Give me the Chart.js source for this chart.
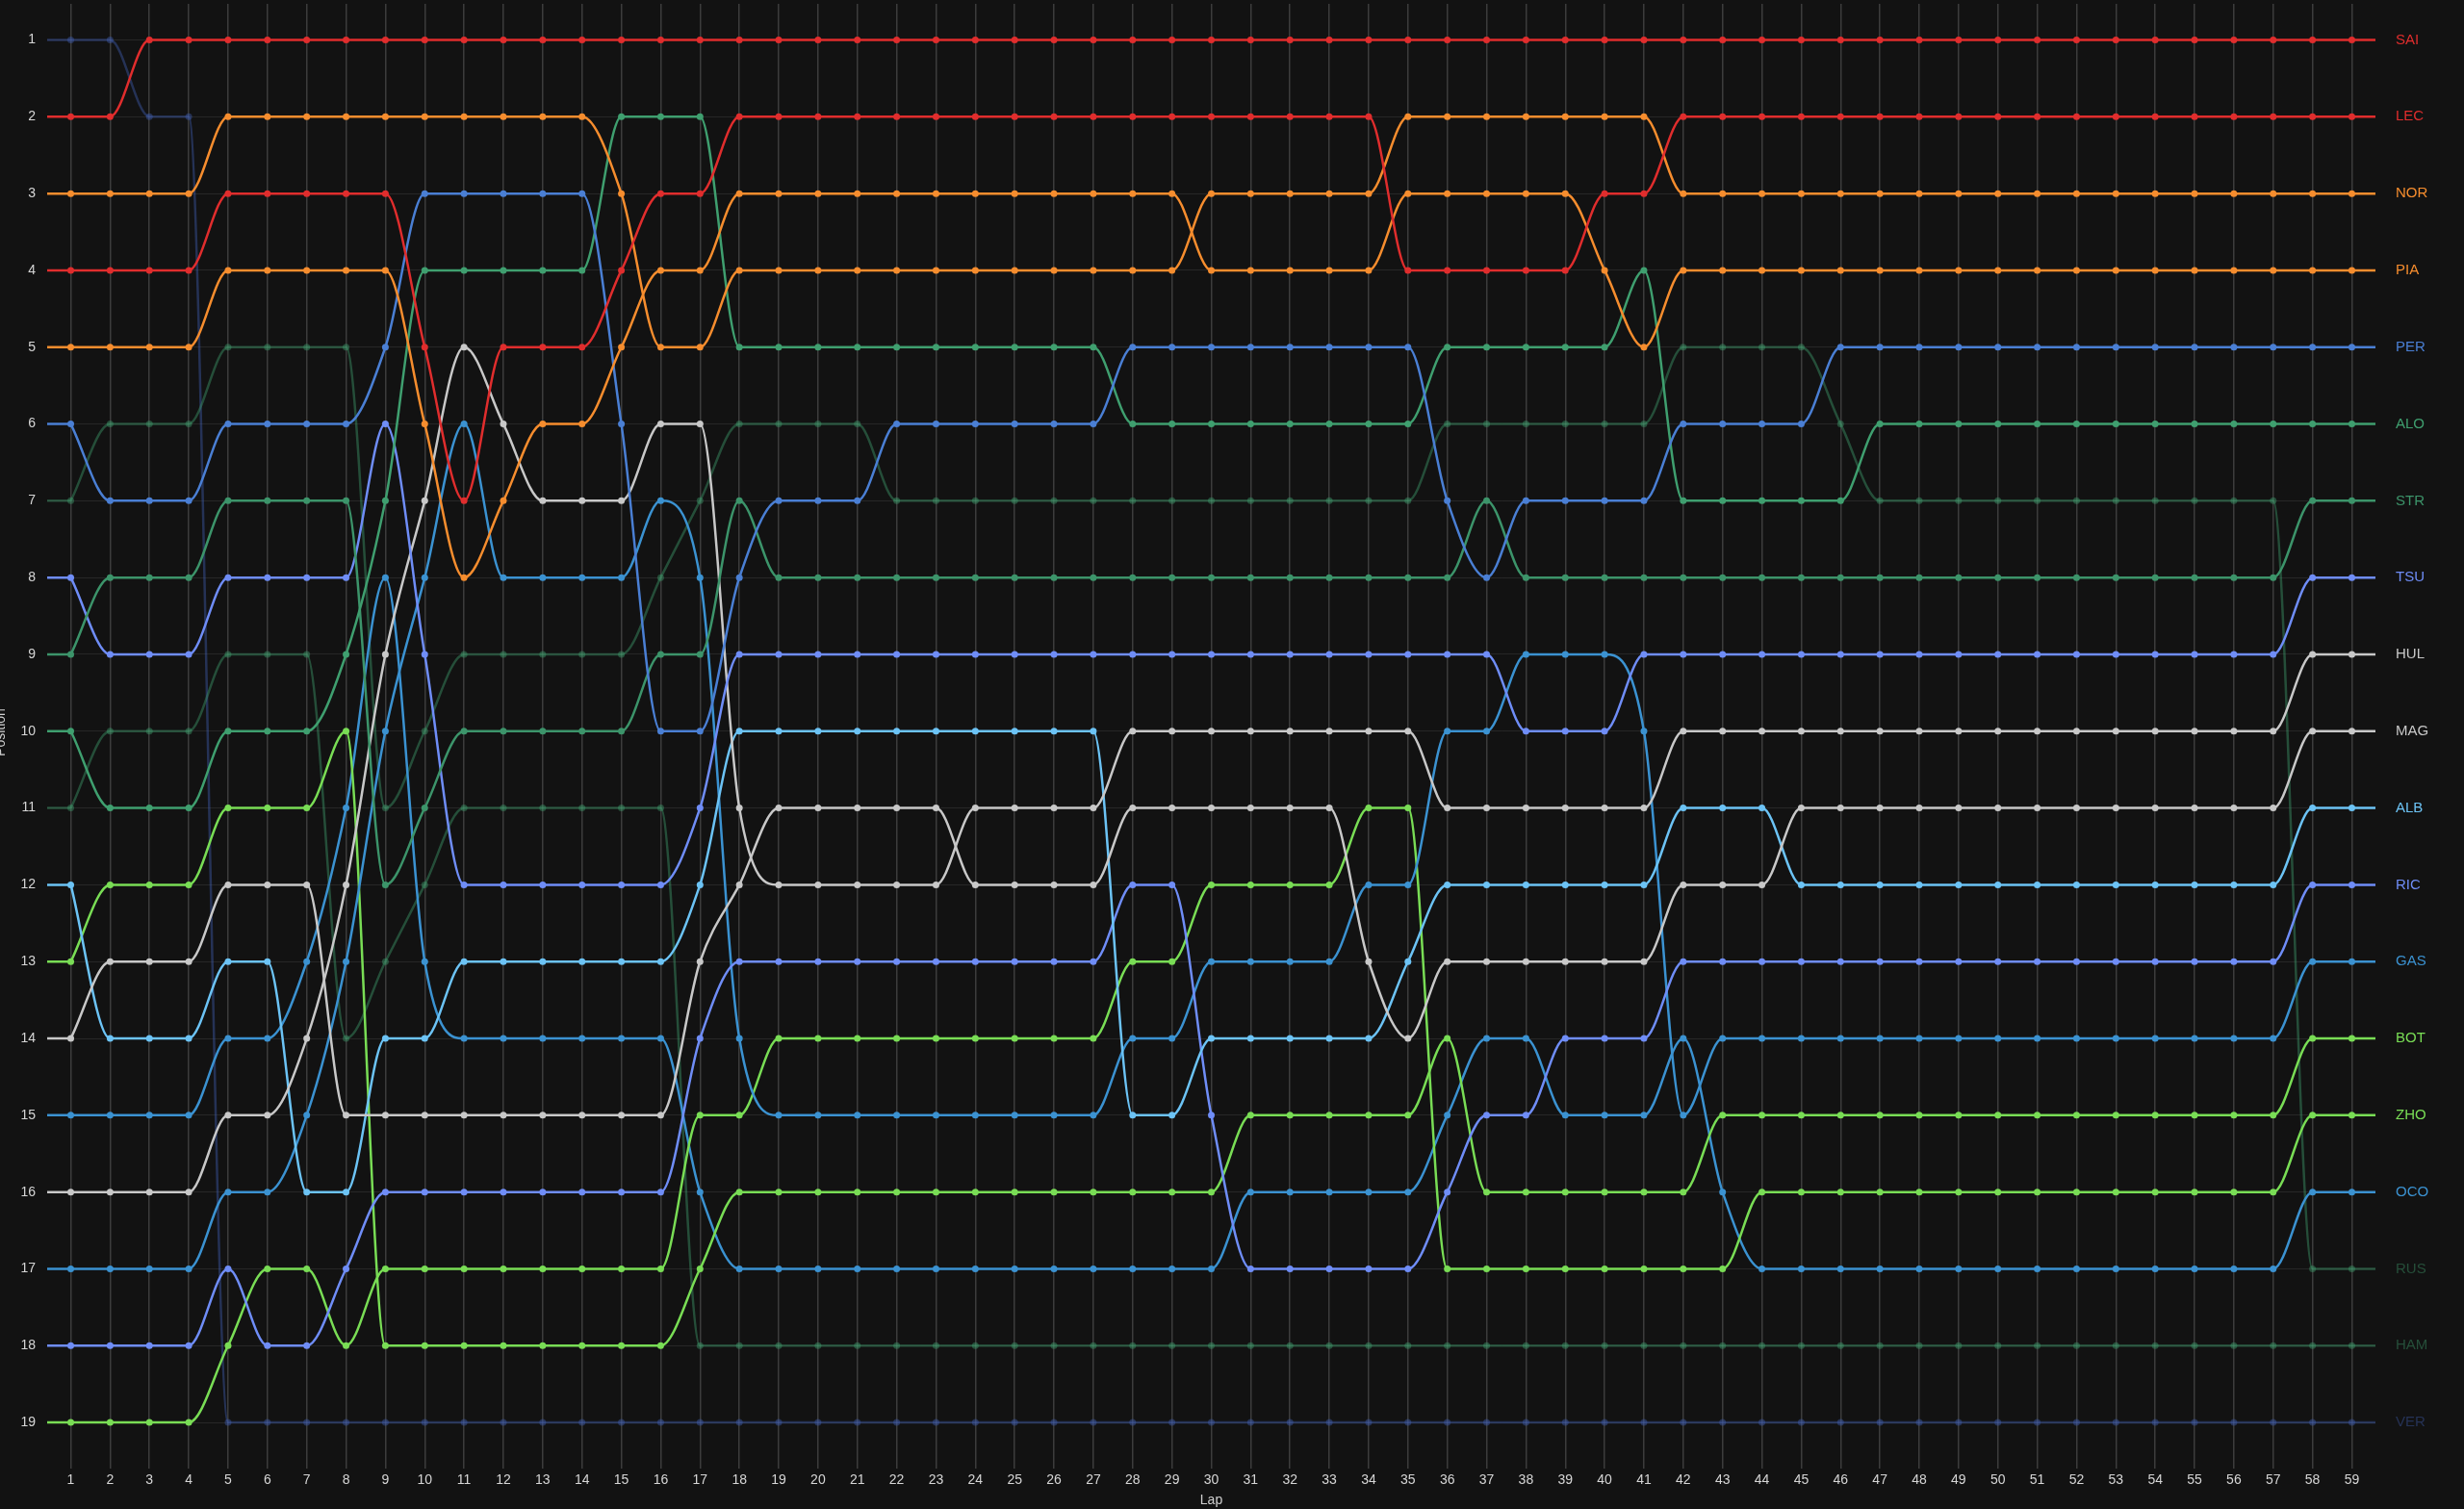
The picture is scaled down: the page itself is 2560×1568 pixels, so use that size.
<!DOCTYPE html>
<html>
<head>
<meta charset="utf-8">
<script src="https://cdn.jsdelivr.net/npm/chart.js@4.4.1/dist/chart.umd.min.js"></script>
<style>
html,body{margin:0;padding:0;background:#121212;}
#wrap{width:2560px;height:1568px;position:relative;}
</style>
</head>
<body>
<div id="wrap"><canvas id="lapChart"></canvas></div>
<script>

const laps = [1,2,3,4,5,6,7,8,9,10,11,12,13,14,15,16,17,18,19,20,
21,22,23,24,25,26,27,28,29,30,31,32,33,34,35,36,37,38,39,40,
41,42,43,44,45,46,47,48,49,50,51,52,53,54,55,56,57,58,59];

const positions = [1,2,3,4,5,6,7,8,9,10,11,12,13,14,15,16,17,18,19];

const drivers = ["SAI","LEC","NOR","PIA","PER","ALO","STR","TSU","HUL","MAG","ALB","RIC","GAS","BOT","ZHO","OCO","RUS","HAM","VER"];

const colors = ["#e02d2d","#e02d2d","#f68d2e","#f68d2e","#4a7fd4","#3f9f6f","#3c946a","#6f8df7","#c8c8c8","#c8c8c8",
"#6cc3f5","#6f8df7","#3b92d1","#79dd55","#79dd55","#3b92d1","rgba(63,154,107,0.45)","rgba(63,154,107,0.45)","rgba(62,92,170,0.45)"];

// position per lap, laps 1..59
const SAI = [2,2,1,1,1,1,1,1,1,1, 1,1,1,1,1,1,1,1,1,1, 1,1,1,1,1,1,1,1,1,1, 1,1,1,1,1,1,1,1,1,1, 1,1,1,1,1,1,1,1,1,1, 1,1,1,1,1,1,1,1,1];
const LEC = [4,4,4,4,3,3,3,3,3,5, 7,5,5,5,4,3,3,2,2,2, 2,2,2,2,2,2,2,2,2,2, 2,2,2,2,4,4,4,4,4,3, 3,2,2,2,2,2,2,2,2,2, 2,2,2,2,2,2,2,2,2];
const NOR = [3,3,3,3,2,2,2,2,2,2, 2,2,2,2,3,5,5,4,4,4, 4,4,4,4,4,4,4,4,4,3, 3,3,3,3,2,2,2,2,2,2, 2,3,3,3,3,3,3,3,3,3, 3,3,3,3,3,3,3,3,3];
const PIA = [5,5,5,5,4,4,4,4,4,6, 8,7,6,6,5,4,4,3,3,3, 3,3,3,3,3,3,3,3,3,4, 4,4,4,4,3,3,3,3,3,4, 5,4,4,4,4,4,4,4,4,4, 4,4,4,4,4,4,4,4,4];
const PER = [6,7,7,7,6,6,6,6,5,3, 3,3,3,3,6,10,10,8,7,7, 7,6,6,6,6,6,6,5,5,5, 5,5,5,5,5,7,8,7,7,7, 7,6,6,6,6,5,5,5,5,5, 5,5,5,5,5,5,5,5,5];
const ALO = [10,11,11,11,10,10,10,9,7,4, 4,4,4,4,2,2,2,5,5,5, 5,5,5,5,5,5,5,6,6,6, 6,6,6,6,6,5,5,5,5,5, 4,7,7,7,7,7,6,6,6,6, 6,6,6,6,6,6,6,6,6];
const STR = [9,8,8,8,7,7,7,7,12,11, 10,10,10,10,10,9,9,7,8,8, 8,8,8,8,8,8,8,8,8,8, 8,8,8,8,8,8,7,8,8,8, 8,8,8,8,8,8,8,8,8,8, 8,8,8,8,8,8,8,7,7];
const TSU = [8,9,9,9,8,8,8,8,6,9, 12,12,12,12,12,12,11,9,9,9, 9,9,9,9,9,9,9,9,9,9, 9,9,9,9,9,9,9,10,10,10, 9,9,9,9,9,9,9,9,9,9, 9,9,9,9,9,9,9,8,8];
const HUL = [16,16,16,16,15,15,14,12,9,7, 5,6,7,7,7,6,6,11,12,12, 12,12,12,11,11,11,11,10,10,10, 10,10,10,10,10,11,11,11,11,11, 11,10,10,10,10,10,10,10,10,10, 10,10,10,10,10,10,10,9,9];
const MAG = [14,13,13,13,12,12,12,15,15,15, 15,15,15,15,15,15,13,12,11,11, 11,11,11,12,12,12,12,11,11,11, 11,11,11,13,14,13,13,13,13,13, 13,12,12,12,11,11,11,11,11,11, 11,11,11,11,11,11,11,10,10];
const ALB = [12,14,14,14,13,13,16,16,14,14, 13,13,13,13,13,13,12,10,10,10, 10,10,10,10,10,10,10,15,15,14, 14,14,14,14,13,12,12,12,12,12, 12,11,11,11,12,12,12,12,12,12, 12,12,12,12,12,12,12,11,11];
const RIC = [18,18,18,18,17,18,18,17,16,16, 16,16,16,16,16,16,14,13,13,13, 13,13,13,13,13,13,13,12,12,15, 17,17,17,17,17,16,15,15,14,14, 14,13,13,13,13,13,13,13,13,13, 13,13,13,13,13,13,13,12,12];
const GAS = [17,17,17,17,16,16,15,13,10,8, 6,8,8,8,8,7,8,14,15,15, 15,15,15,15,15,15,15,14,14,13, 13,13,13,12,12,10,10,9,9,9, 10,15,14,14,14,14,14,14,14,14, 14,14,14,14,14,14,14,13,13];
const BOT = [13,12,12,12,11,11,11,10,18,18, 18,18,18,18,18,18,17,16,16,16, 16,16,16,16,16,16,16,16,16,16, 15,15,15,15,15,14,16,16,16,16, 16,16,15,15,15,15,15,15,15,15, 15,15,15,15,15,15,15,14,14];
const ZHO = [19,19,19,19,18,17,17,18,17,17, 17,17,17,17,17,17,15,15,14,14, 14,14,14,14,14,14,14,13,13,12, 12,12,12,11,11,17,17,17,17,17, 17,17,17,16,16,16,16,16,16,16, 16,16,16,16,16,16,16,15,15];
const OCO = [15,15,15,15,14,14,13,11,8,13, 14,14,14,14,14,14,16,17,17,17, 17,17,17,17,17,17,17,17,17,17, 16,16,16,16,16,15,14,14,15,15, 15,14,16,17,17,17,17,17,17,17, 17,17,17,17,17,17,17,16,16];
const RUS = [7,6,6,6,5,5,5,5,11,10, 9,9,9,9,9,8,7,6,6,6, 6,7,7,7,7,7,7,7,7,7, 7,7,7,7,7,6,6,6,6,6, 6,5,5,5,5,6,7,7,7,7, 7,7,7,7,7,7,7,17,17];
const HAM = [11,10,10,10,9,9,9,14,13,12, 11,11,11,11,11,11,18,18,18,18, 18,18,18,18,18,18,18,18,18,18, 18,18,18,18,18,18,18,18,18,18, 18,18,18,18,18,18,18,18,18,18, 18,18,18,18,18,18,18,18,18];
const VER = [1,1,2,2,19,19,19,19,19,19, 19,19,19,19,19,19,19,19,19,19, 19,19,19,19,19,19,19,19,19,19, 19,19,19,19,19,19,19,19,19,19, 19,19,19,19,19,19,19,19,19,19, 19,19,19,19,19,19,19,19,19];

const series = [SAI,LEC,NOR,PIA,PER,ALO,STR,TSU,HUL,MAG,ALB,RIC,GAS,BOT,ZHO,OCO,RUS,HAM,VER];
const retired = ["RUS","HAM","VER"];

const fontFamily = "'Liberation Sans', Arial, sans-serif";


const endLabels = {

id:"endLabels",

beforeDatasetsDraw(chart){
const ctx = chart.ctx;
const area = chart.chartArea;
chart.data.datasets.forEach((ds,i)=>{
const pts = chart.getDatasetMeta(i).data;
const first = pts[0];
const last = pts[pts.length-1];
ctx.save();
ctx.strokeStyle = ds.borderColor;
ctx.lineWidth = ds.borderWidth;
ctx.beginPath();
ctx.moveTo(area.left, first.y);
ctx.lineTo(first.x, first.y);
ctx.moveTo(last.x, last.y);
ctx.lineTo(area.right, last.y);
ctx.stroke();
ctx.restore();
});
},

afterDatasetsDraw(chart){
const ctx = chart.ctx;
const area = chart.chartArea;
ctx.save();
ctx.font = "15px " + fontFamily;
ctx.textAlign = "left";
ctx.textBaseline = "middle";
chart.data.datasets.forEach((ds,i)=>{
const pts = chart.getDatasetMeta(i).data;
const last = pts[pts.length-1];
ctx.fillStyle = ds.borderColor;
ctx.fillText(ds.label, area.right + 21, last.y);
});
ctx.restore();
}

};


const lapChart =
new Chart(
document.getElementById("lapChart"),
{

type:"line",

data:{
labels:laps,
datasets:drivers.map((d,i)=>({
label:d,
data:series[i],
borderColor:colors[i],
backgroundColor:colors[i],
pointBackgroundColor:colors[i],
pointBorderWidth:0,
pointRadius:3.5,
borderWidth:2.5,
cubicInterpolationMode:"monotone",
order:retired.includes(d) ? 1 : 0
}))
},

options:{
responsive:true,
maintainAspectRatio:false,
animation:false,
devicePixelRatio:1,
layout:{ padding:{ top:0, right:92, bottom:0, left:0 } },
plugins:{
legend:{ display:false },
tooltip:{ enabled:false }
},
scales:{
x:{
type:"linear",
min:0.4,
max:59.6,
afterBuildTicks:s=>{ s.ticks = laps.map(v=>({value:v})); },
afterFit:s=>{ s.height = 50; },
grid:{ color:"rgba(255,255,255,0.18)", lineWidth:1.5, tickLength:8 },
border:{ display:false },
ticks:{ color:"#d6d6d6", font:{ size:14, family:fontFamily }, padding:4, maxRotation:0, autoSkip:false },
title:{ display:true, text:"Lap", color:"#cfcfcf", font:{ size:14, family:fontFamily }, padding:{ top:0, bottom:0 } }
},
y:{
type:"linear",
reverse:true,
min:0.53,
max:19.5,
afterBuildTicks:s=>{ s.ticks = positions.map(v=>({value:v})); },
afterFit:s=>{ s.width = 49; s.paddingTop = 0; s.paddingBottom = 0; },
grid:{ color:"rgba(255,255,255,0.09)", lineWidth:1, drawTicks:false },
border:{ display:false },
ticks:{ color:"#d6d6d6", font:{ size:14, family:fontFamily }, padding:12 },
title:{ display:true, text:"Position", color:"#cfcfcf", font:{ size:14, family:fontFamily }, padding:{ top:-7, bottom:0 } }
}
}
},

plugins:[endLabels]

});

</script>
</body>
</html>
